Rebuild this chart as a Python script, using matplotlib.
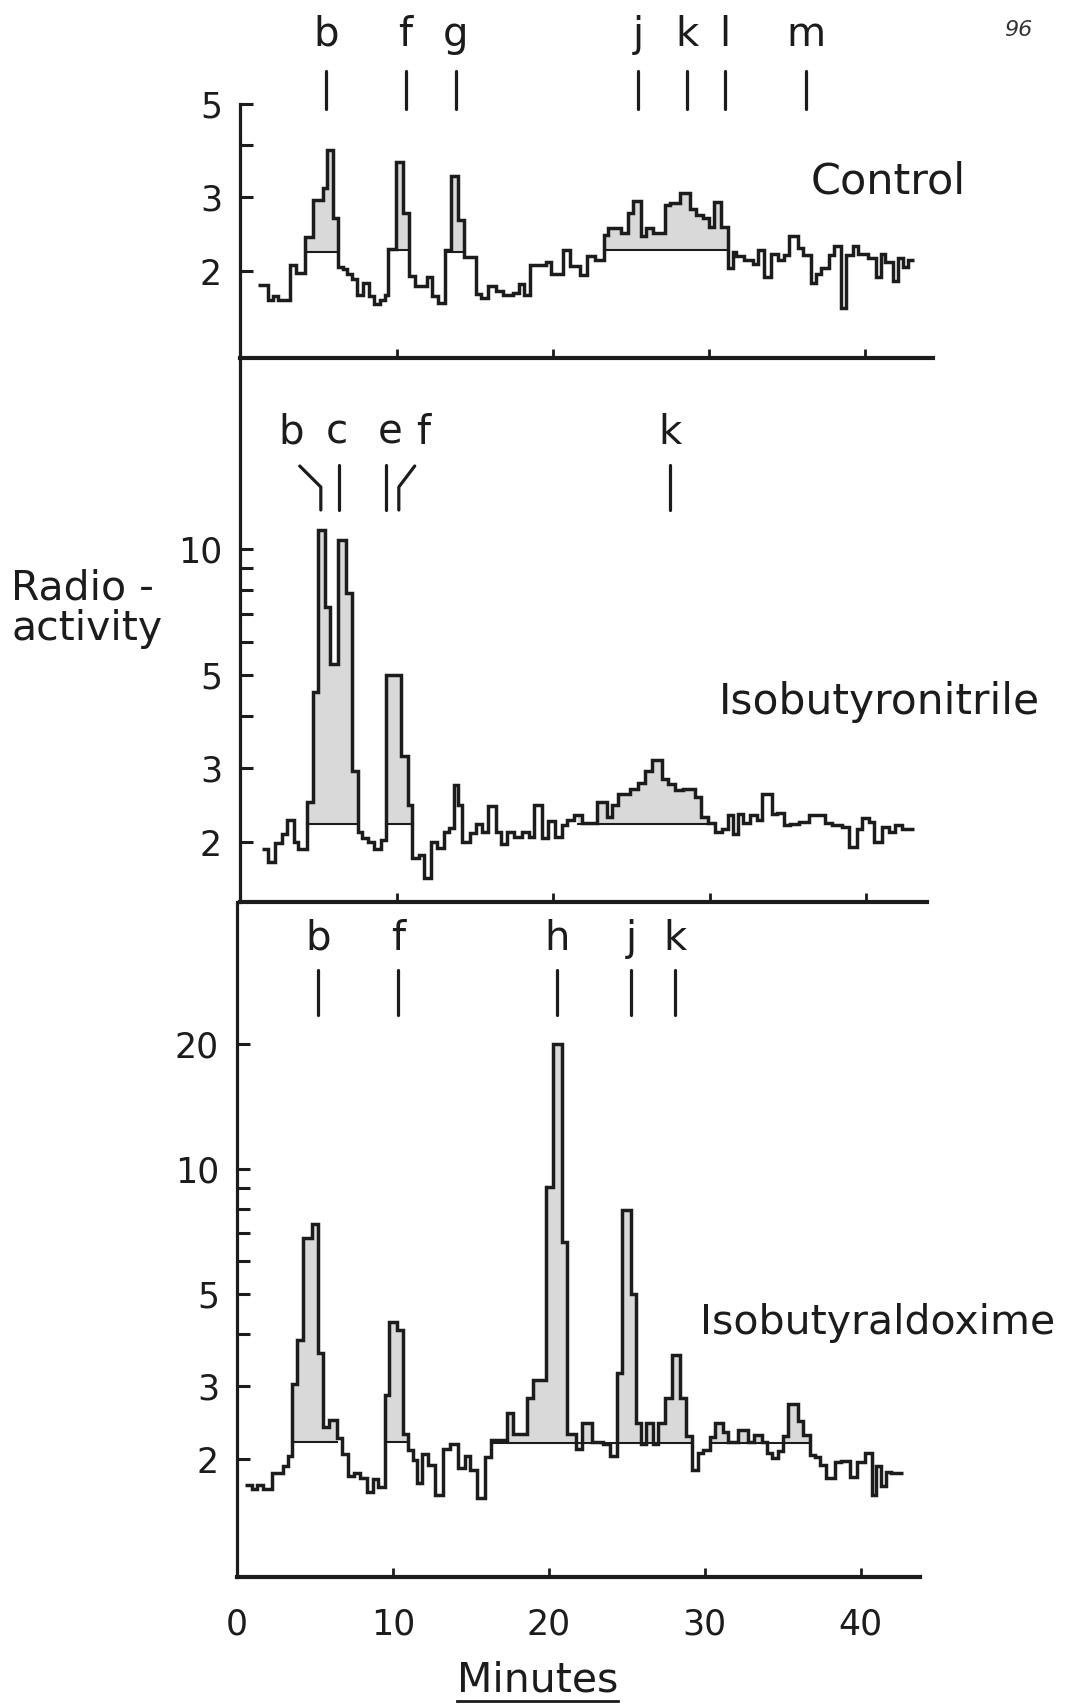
import numpy as np
import matplotlib
matplotlib.use("Agg")
import matplotlib.pyplot as plt
from matplotlib.transforms import blended_transform_factory
from matplotlib.ticker import NullLocator

# ---------------- data (minutes, radioactivity) ----------------
ctrl_edges = [1.13, 1.77, 2.09, 2.41, 3.16, 3.54, 4.12, 4.65, 5.25, 5.54, 5.93, 6.25, 6.52, 6.78, 7.10,
              7.46, 7.80, 8.23, 8.53, 8.91, 9.23, 9.45, 9.94, 10.41, 10.79, 11.15, 11.94, 12.28, 12.65,
              13.07, 13.50, 13.93, 14.31, 15.10, 15.42, 15.85, 16.38, 16.80, 17.45, 17.83, 18.13, 18.51,
              19.58, 19.90, 20.65, 21.07, 21.71, 22.20, 22.67, 23.27, 23.53, 24.38, 24.81, 25.13, 25.66,
              25.98, 26.40, 27.15, 27.47, 28.11, 28.75, 29.18, 29.60, 30.03, 30.35, 30.78, 31.20, 31.52,
              31.74, 32.27, 32.80, 33.12, 33.55, 33.98, 34.40, 34.83, 35.15, 35.68, 36.00, 36.53, 36.85,
              37.17, 37.71, 37.98, 38.45, 38.77, 39.20, 39.52, 40.16, 40.69, 41.01, 41.27, 41.76, 42.08,
              42.40, 42.72, 43.15]
ctrl_vals = [1.85, 1.71, 1.74, 1.71, 2.07, 1.98, 2.41, 2.96, 3.15, 3.88, 2.67, 2.05, 2.02, 1.97, 1.91,
             1.75, 1.87, 1.74, 1.67, 1.71, 1.75, 2.26, 3.64, 2.75, 1.95, 1.84, 1.94, 1.74, 1.68, 2.24,
             3.37, 2.65, 2.16, 1.76, 1.72, 1.84, 1.79, 1.75, 1.77, 1.86, 1.75, 2.07, 2.10, 1.97, 2.25,
             2.06, 1.96, 2.17, 2.12, 2.44, 2.53, 2.46, 2.75, 2.94, 2.42, 2.53, 2.46, 2.88, 2.90, 3.07,
             2.82, 2.72, 2.67, 2.55, 2.92, 2.55, 2.03, 2.22, 2.17, 2.13, 2.08, 2.25, 1.94, 2.20, 2.13,
             2.18, 2.42, 2.27, 2.18, 1.87, 1.97, 2.03, 2.18, 2.29, 1.63, 2.18, 2.29, 2.20, 2.15, 1.94,
             2.20, 2.10, 1.89, 2.15, 2.05, 2.13]
ctrl_base = [(4.12, 6.25, 2.22), (9.45, 10.79, 2.24), (13.07, 14.31, 2.22), (23.27, 31.20, 2.25)]

nitr_edges = [1.34, 1.77, 2.20, 2.66, 2.98, 3.41, 3.69, 4.22, 4.59, 4.93, 5.40, 5.72, 6.25, 6.72, 7.10,
              7.49, 7.78, 8.17, 8.55, 8.98, 9.28, 10.26, 10.68, 10.98, 11.37, 11.69, 12.18, 12.54, 12.97,
              13.33, 13.61, 13.88, 14.14, 14.67, 15.04, 15.42, 15.80, 16.32, 16.66, 17.02, 17.45, 17.98,
              18.41, 18.79, 19.26, 19.64, 20.11, 20.54, 20.86, 21.29, 21.82, 22.78, 23.42, 23.74, 24.16,
              24.91, 25.44, 25.87, 26.30, 26.94, 27.36, 27.79, 28.32, 29.07, 29.45, 29.88, 30.35, 30.78,
              31.20, 31.52, 31.84, 32.16, 32.59, 33.02, 33.34, 33.98, 34.30, 34.72, 35.15, 35.68, 36.32,
              37.39, 37.81, 38.45, 38.88, 39.41, 39.73, 40.16, 40.48, 41.01, 41.44, 41.87, 42.29, 42.72,
              43.04]
nitr_vals = [1.93, 1.79, 1.99, 2.09, 2.26, 2.00, 1.93, 2.50, 4.57, 11.1, 7.29, 5.33, 10.5, 7.85, 2.96,
             2.12, 2.05, 2.00, 1.93, 2.02, 5.01, 3.22, 2.45, 1.83, 1.86, 1.64, 2.00, 1.94, 2.11, 2.16,
             2.74, 2.45, 2.00, 2.10, 2.21, 2.12, 2.44, 2.11, 1.98, 2.11, 2.06, 2.11, 2.06, 2.46, 2.05,
             2.25, 2.06, 2.20, 2.26, 2.32, 2.22, 2.50, 2.30, 2.45, 2.60, 2.68, 2.77, 2.96, 3.15, 2.83,
             2.75, 2.67, 2.68, 2.57, 2.30, 2.22, 2.12, 2.15, 2.32, 2.09, 2.33, 2.22, 2.32, 2.26, 2.60,
             2.33, 2.35, 2.20, 2.21, 2.23, 2.32, 2.22, 2.20, 2.18, 1.95, 2.15, 2.28, 2.23, 2.00, 2.18,
             2.12, 2.20, 2.15, 2.15]
nitr_base = [(4.22, 7.49, 2.21), (9.28, 10.98, 2.21), (21.60, 29.88, 2.21)]

oxim_edges = [0.51, 0.94, 1.26, 1.69, 2.22, 2.97, 3.30, 3.50, 3.83, 4.25, 4.79, 5.21, 5.49, 5.92, 6.39,
              6.71, 7.14, 7.50, 7.88, 8.31, 8.70, 9.06, 9.49, 9.77, 10.24, 10.66, 10.98, 11.26, 11.52,
              11.84, 12.27, 12.69, 13.23, 13.65, 14.19, 14.62, 14.94, 15.36, 15.90, 16.32, 17.29, 17.71,
              18.57, 18.99, 19.81, 20.28, 20.81, 21.18, 21.77, 22.15, 22.74, 23.49, 23.91, 24.34, 24.66,
              25.24, 25.58, 25.88, 26.22, 26.69, 27.01, 27.44, 27.87, 28.40, 28.79, 29.21, 29.58, 29.90,
              30.32, 30.64, 31.18, 31.50, 32.14, 32.78, 33.15, 33.64, 33.96, 34.28, 34.71, 35.03, 35.35,
              35.99, 36.31, 36.74, 37.06, 37.38, 37.80, 38.34, 38.76, 39.30, 39.73, 40.26, 40.69, 41.01,
              41.33, 41.65, 41.97, 42.40, 42.72]
oxim_vals = [1.73, 1.69, 1.73, 1.69, 1.85, 1.92, 2.03, 3.04, 3.87, 6.81, 7.36, 3.60, 2.39, 2.49, 2.25,
             2.06, 1.82, 1.85, 1.80, 1.67, 1.79, 1.71, 2.85, 4.28, 4.10, 2.30, 2.10, 1.99, 1.75, 2.06,
             1.94, 1.64, 2.12, 2.17, 1.90, 2.04, 1.88, 1.61, 2.02, 2.22, 2.58, 2.30, 2.80, 3.11, 9.06,
             20.0, 6.68, 2.30, 2.12, 2.44, 2.20, 2.17, 2.03, 3.22, 7.96, 5.01, 2.44, 2.17, 2.44, 2.18,
             2.44, 2.81, 3.56, 2.81, 2.28, 1.88, 2.07, 2.10, 2.26, 2.45, 2.33, 2.20, 2.35, 2.20, 2.29,
             2.20, 2.07, 2.01, 2.09, 2.28, 2.72, 2.47, 2.29, 2.05, 2.02, 1.94, 1.80, 1.97, 1.98, 1.81,
             1.97, 2.07, 1.64, 1.92, 1.72, 1.86, 1.85, 1.85]
oxim_base = [(3.50, 6.39, 2.20), (9.49, 10.98, 2.20), (16.32, 29.21, 2.19), (30.32, 36.74, 2.19)]

# peak markers: label, label x, line x (minutes)
ctrl_peaks = [("b", 5.44), ("f", 10.56), ("g", 13.76), ("j", 25.46), ("k", 28.6), ("l", 31.03), ("m", 36.2)]
nitr_peaks = [("b", 3.2, 5.12, 3.77), ("c", 6.14, 6.27, 6.27), ("e", 9.53, 9.28, 9.28),
              ("f", 11.64, 10.11, 11.13), ("k", 27.45, 27.45, 27.45)]
oxim_peaks = [("b", 5.19), ("f", 10.32), ("h", 20.5), ("j", 25.26), ("k", 28.08)]

x_ticks = [0, 10, 20, 30, 40]
ctrl_yticks, ctrl_ylabels = [2, 3, 4, 5], ["2", "3", "", "5"]
nitr_yticks = [2, 3, 4, 5, 6, 7, 8, 9, 10]
nitr_ylabels = ["2", "3", "", "5", "", "", "", "", "10"]
oxim_yticks = [2, 3, 4, 5, 6, 7, 8, 9, 10, 20]
oxim_ylabels = ["2", "3", "", "5", "", "", "", "", "10", "20"]

# ---------------- figure ----------------
W, H = 1067, 1707
fig = plt.figure(figsize=(W / 100, H / 100), dpi=100)
ink = "#1c1c1c"
shade = "#d9d9d9"
TICK_FS = 25


def rect(left, top, right, bottom):
    return [left / W, 1 - bottom / H, (right - left) / W, (bottom - top) / H]


def fy(py):
    return 1 - py / H


def fill_segment(ax, edges, vals, s, e, level):
    edges = np.asarray(edges)
    vals = np.asarray(vals)
    inner = edges[(edges > s) & (edges < e)]
    xs = np.concatenate([[s], inner, [e]])
    idx = np.clip(np.searchsorted(edges, xs[:-1], side="right") - 1, 0, len(vals) - 1)
    ys = np.append(vals[idx], vals[idx][-1])
    ax.fill_between(xs, level, np.maximum(ys, level), step="post", color=shade, lw=0, zorder=1)
    ax.plot([s, e], [level, level], color=ink, lw=1.5, zorder=2)


def setup(ax, xlim, ylim, yticks, ylabels, xlabels):
    ax.set_yscale("log")
    ax.set_xlim(*xlim)
    ax.set_ylim(*ylim)
    for s in ("top", "right"):
        ax.spines[s].set_visible(False)
    ax.spines["left"].set_linewidth(2.3)
    ax.spines["bottom"].set_linewidth(3.0)
    ax.spines["left"].set_color(ink)
    ax.spines["bottom"].set_color(ink)
    ax.set_yticks(yticks)
    ax.set_yticklabels(ylabels)
    ax.yaxis.set_minor_locator(NullLocator())
    ax.tick_params(axis="y", direction="in", length=9.5, width=2.2, labelsize=TICK_FS,
                   pad=13, colors=ink)
    if xlabels:
        ax.set_xticks(x_ticks)
        ax.set_xticklabels([str(t) for t in x_ticks])
    else:
        ax.set_xticks(x_ticks[1:])
        ax.set_xticklabels([])
    ax.xaxis.set_minor_locator(NullLocator())
    ax.tick_params(axis="x", direction="in", length=6.5, width=2.0, labelsize=TICK_FS,
                   pad=22, colors=ink)
    ax.patch.set_alpha(0)


def draw(ax, edges, vals, bases):
    for s, e, lv in bases:
        fill_segment(ax, edges, vals, s, e, lv)
    ax.stairs(vals, edges, baseline=None, color=ink, lw=2.5, zorder=3)


ax1 = fig.add_axes(rect(240, 104, 933, 358))
ax2 = fig.add_axes(rect(240, 358, 927, 902))
ax3 = fig.add_axes(rect(237, 902, 920, 1577))

setup(ax1, (-0.05, 44.35), (1.24, 5.01), ctrl_yticks, ctrl_ylabels, False)
setup(ax2, (-0.05, 43.9), (1.44, 28.6), nitr_yticks, nitr_ylabels, False)
setup(ax3, (0.0, 43.8), (1.04, 44.0), oxim_yticks, oxim_ylabels, True)

draw(ax1, ctrl_edges, ctrl_vals, ctrl_base)
draw(ax2, nitr_edges, nitr_vals, nitr_base)
draw(ax3, oxim_edges, oxim_vals, oxim_base)

LET_FS = 29
LW_M = 2.3

# control markers
t1 = blended_transform_factory(ax1.transData, fig.transFigure)
for lab, x in ctrl_peaks:
    fig.text(x, fy(35), lab, transform=t1, ha="center", va="center", fontsize=LET_FS, color=ink)
    fig.add_artist(plt.Line2D([x, x], [fy(71), fy(109)], transform=t1, color=ink, lw=LW_M,
                              solid_capstyle="round"))

# isobutyronitrile markers
t2 = blended_transform_factory(ax2.transData, fig.transFigure)
for lab, lx, x, xtop in nitr_peaks:
    fig.text(lx, fy(433), lab, transform=t2, ha="center", va="center", fontsize=LET_FS, color=ink)
    if xtop == x:
        xs, ys = [x, x], [fy(465), fy(510)]
    else:
        xs, ys = [xtop, x, x], [fy(466), fy(487), fy(510)]
    fig.add_artist(plt.Line2D(xs, ys, transform=t2, color=ink, lw=LW_M,
                              solid_capstyle="round", solid_joinstyle="round"))

# isobutyraldoxime markers
t3 = blended_transform_factory(ax3.transData, fig.transFigure)
for lab, x in oxim_peaks:
    fig.text(x, fy(939), lab, transform=t3, ha="center", va="center", fontsize=LET_FS, color=ink)
    fig.add_artist(plt.Line2D([x, x], [fy(970), fy(1015)], transform=t3, color=ink, lw=LW_M,
                              solid_capstyle="round"))

# panel names
fig.text(811 / W, fy(182), "Control", ha="left", va="center", fontsize=31, color=ink)
fig.text(719 / W, fy(702), "Isobutyronitrile", ha="left", va="center", fontsize=30.5, color=ink)
fig.text(700 / W, fy(1323), "Isobutyraldoxime", ha="left", va="center", fontsize=29.5, color=ink)

# y label
fig.text(11 / W, fy(588), "Radio -", ha="left", va="center", fontsize=29.5, color=ink)
fig.text(11 / W, fy(629), "activity", ha="left", va="center", fontsize=29.5, color=ink)

# x label with underline
fig.text(538 / W, fy(1680), "Minutes", ha="center", va="center", fontsize=29.5, color=ink)
fig.add_artist(plt.Line2D([457 / W, 618 / W], [fy(1701), fy(1701)], color=ink, lw=2.0))

# page number
fig.text(1018 / W, fy(30), "96", ha="center", va="center", fontsize=16, style="italic", color="#333333")

fig.savefig("out.png", dpi=100, facecolor="white")
